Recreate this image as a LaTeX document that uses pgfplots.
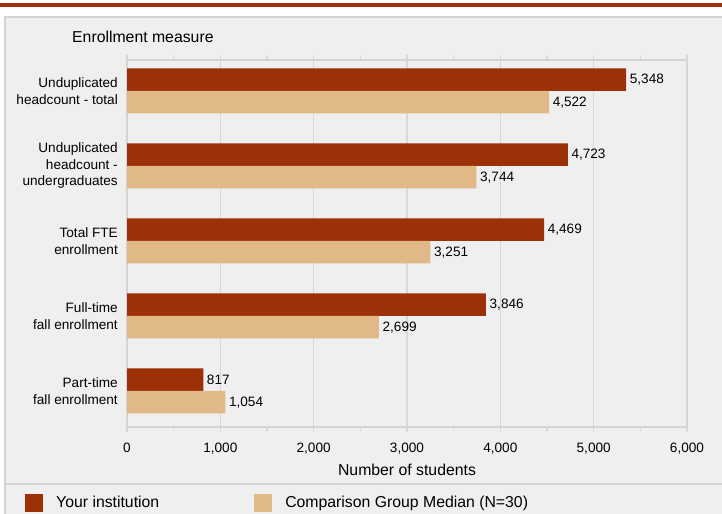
\documentclass[border=0pt]{standalone}
\usepackage{pgfplots}
\pgfplotsset{compat=1.18}
\usepackage{fontspec}
\setmainfont{Liberation Sans}

\definecolor{barred}{HTML}{9C3006}
\definecolor{bartan}{HTML}{E0B987}
\definecolor{band}{HTML}{A0320A}
\definecolor{panel}{HTML}{EFEFEF}
\definecolor{rulec}{HTML}{D4D4D4}
\definecolor{gridc}{HTML}{D8D8D8}

\newcommand{\smallfont}{\fontsize{13.6bp}{16.5bp}\selectfont}
\newcommand{\largefont}{\fontsize{15.8bp}{18bp}\selectfont}

\begin{document}
\begin{tikzpicture}[x=1bp,y=1bp]
\useasboundingbox (0,0) rectangle (722,514);
\clip (0,0) rectangle (722,514);
% page background, top band and panel
\fill[white] (0,0) rectangle (722,514);
\fill[band] (0,507) rectangle (722,511);
\fill[panel] (5,-5) rectangle (730,497);
\draw[rulec, line width=1.2bp] (5,-5) -- (5,497) -- (730,497);
\draw[rulec, line width=1.5bp] (5,30) -- (730,30);
\node[anchor=west, font=\largefont, inner sep=0pt] at (72,477) {Enrollment measure};

\begin{axis}[
  at={(127bp,87bp)}, anchor=south west,
  width=560bp, height=367bp, scale only axis,
  xmin=0, xmax=6000, ymin=-0.48, ymax=4.413,
  xbar, bar width=22.5bp,
  axis line style={rulec, line width=1.5bp},
  xmajorgrids, grid style={gridc, line width=1.5bp},
  xtick={0,1000,...,6000}, minor x tick num=1,
  tick align=outside,
  major tick length=5bp, minor tick length=4bp,
  every tick/.style={gridc, line width=1.5bp},
  ytick={0,1,2,3,4},
  yticklabels={{Part-time\\fall enrollment},{Full-time\\fall enrollment},{Total FTE\\enrollment},{Unduplicated\\headcount -\\undergraduates},{Unduplicated\\headcount - total}},
  y tick style={draw=none},
  yticklabel style={align=right, font=\smallfont, inner sep=0pt, xshift=-4bp},
  xticklabel style={font=\smallfont, yshift=-7bp},
  /pgf/number format/.cd, 1000 sep={,}, assume math mode=true, /pgfplots/.cd,
  scaled x ticks=false,
  xlabel={Number of students},
  xlabel style={font=\largefont, anchor=center, at={(axis description cs:0.5,0)}, yshift=-43bp},
  point meta=x,
  nodes near coords,
  nodes near coords style={font=\smallfont, anchor=west, inner sep=0pt, xshift=3.5bp, black},
  legend columns=2,
  legend cell align=left,
  legend image code/.code={\fill[#1] (0bp,-9bp) rectangle (18bp,9bp);},
  legend style={at={(axis description cs:0,0)}, anchor=west, xshift=-102bp, yshift=-76bp,
    draw=none, fill=none, inner sep=0pt, font=\largefont,
    nodes={inner sep=0pt},
    /tikz/every odd column/.append style={column sep=13bp},
    /tikz/every even column/.append style={column sep=95bp}},
]
\addplot[fill=barred, draw=none, bar shift=11.25bp]
  coordinates {(5348,4) (4723,3) (4469,2) (3846,1) (817,0)};
\addlegendentry{Your institution}
\addplot[fill=bartan, draw=none, bar shift=-11.25bp]
  coordinates {(4522,4) (3744,3) (3251,2) (2699,1) (1054,0)};
\addlegendentry{Comparison Group Median (N=30)}
\end{axis}
\end{tikzpicture}
\end{document}
